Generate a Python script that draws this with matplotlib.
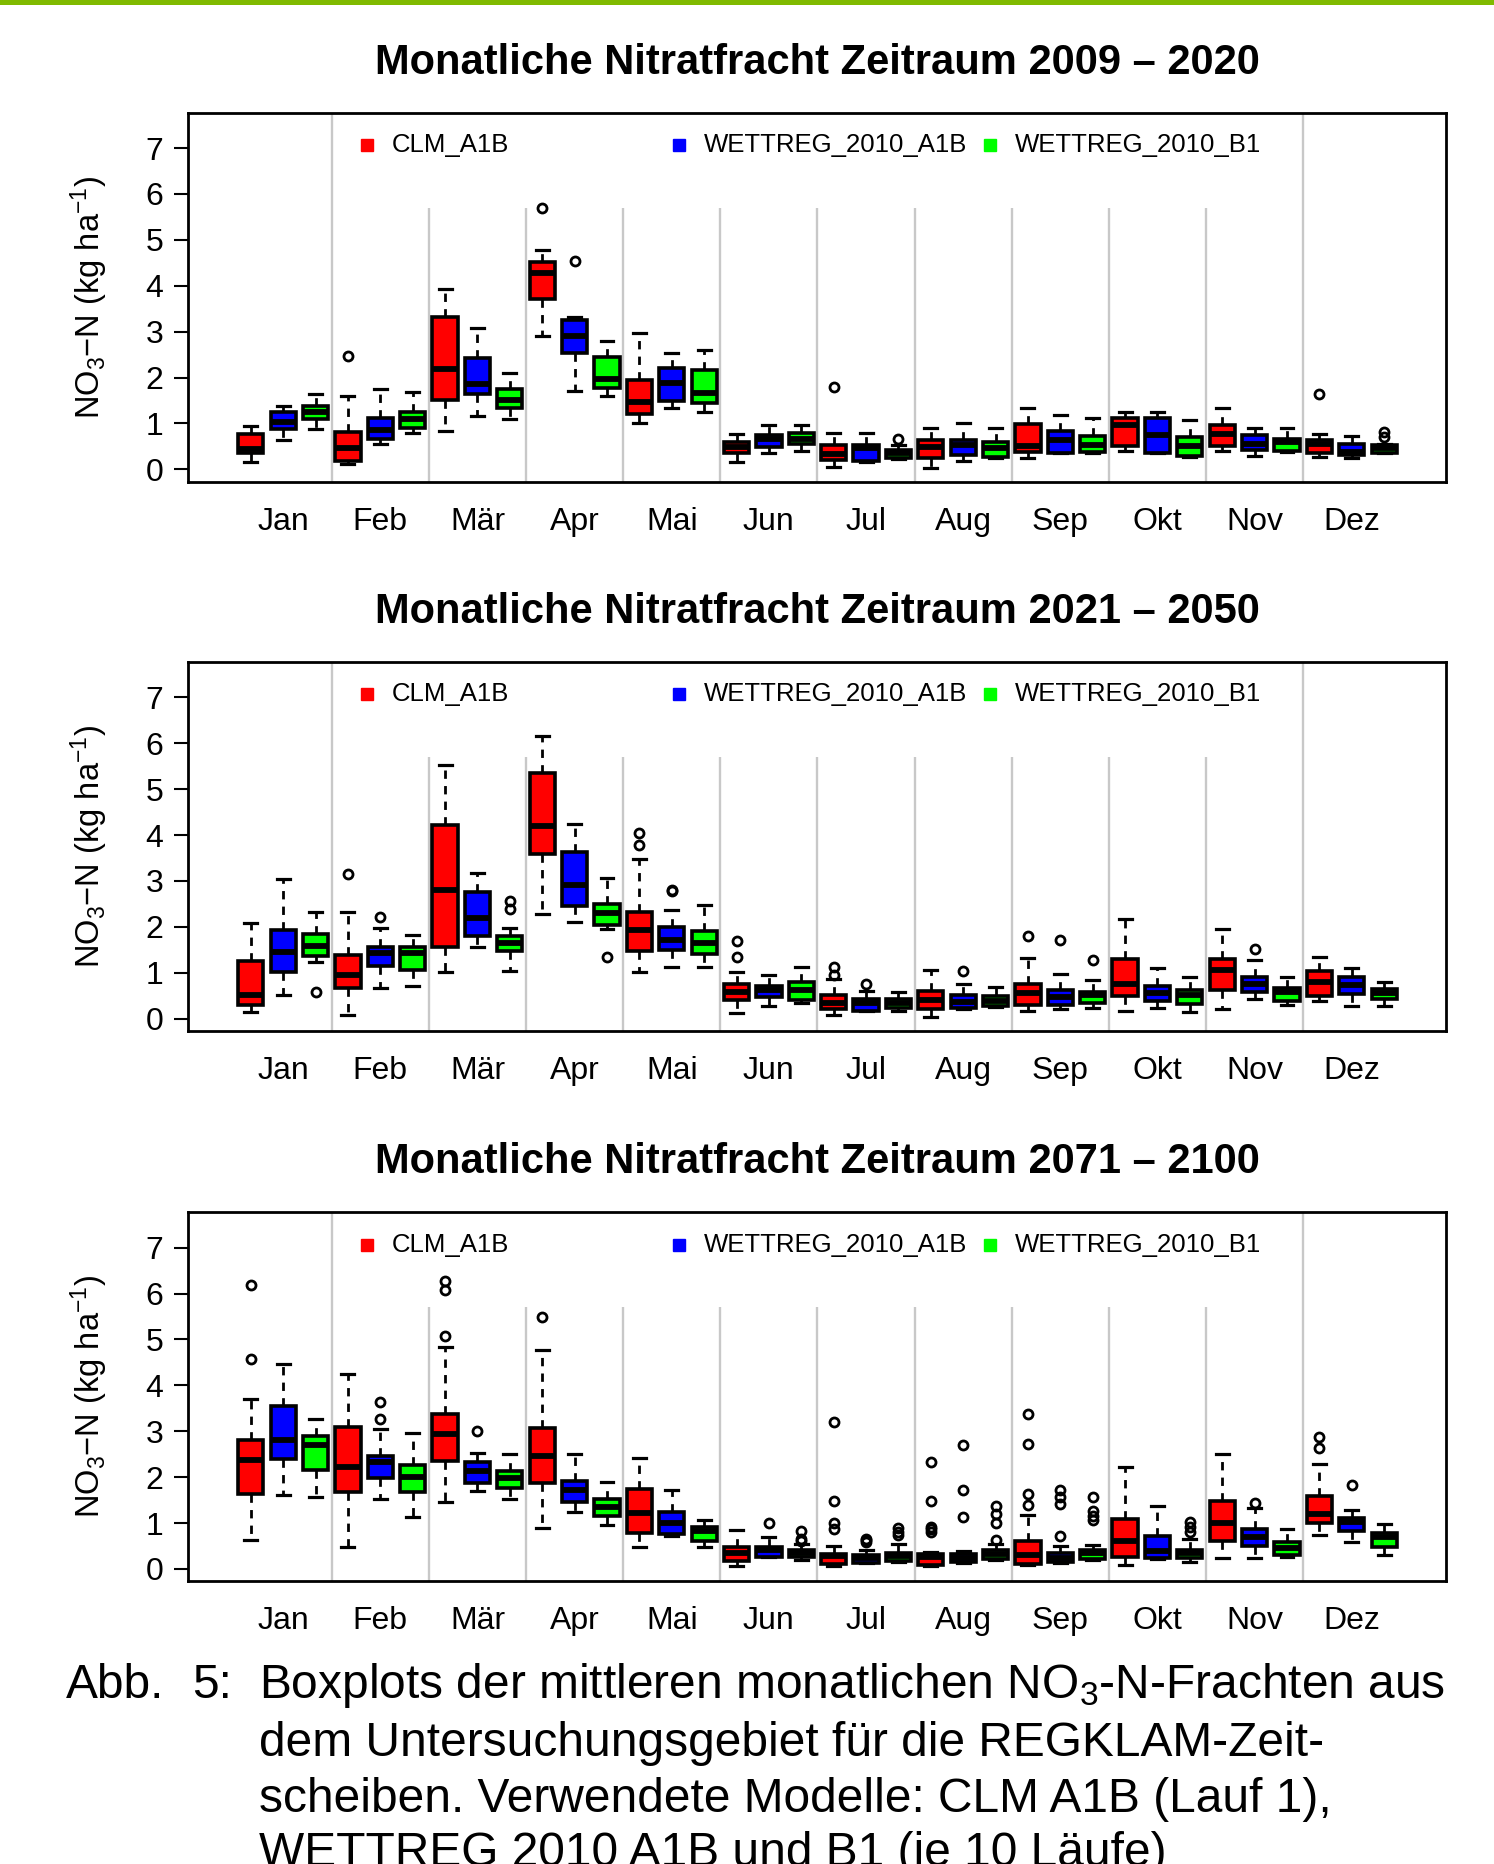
import matplotlib
matplotlib.use("Agg")
import matplotlib.pyplot as plt
from matplotlib.patches import Rectangle

plt.rcParams['font.family'] = ['Liberation Sans', 'DejaVu Sans']
plt.rcParams['mathtext.fontset'] = 'custom'
plt.rcParams['mathtext.rm'] = 'Liberation Sans'
plt.rcParams['mathtext.it'] = 'Liberation Sans:italic'
plt.rcParams['mathtext.bf'] = 'Liberation Sans:bold'

months = ["Jan", "Feb", "Mär", "Apr", "Mai", "Jun", "Jul", "Aug", "Sep", "Okt", "Nov", "Dez"]
models = ["CLM_A1B", "WETTREG_2010_A1B", "WETTREG_2010_B1"]
model_colors = ["#FF0000", "#0000FF", "#00FF00"]
titles = ["Monatliche Nitratfracht Zeitraum 2009 – 2020",
          "Monatliche Nitratfracht Zeitraum 2021 – 2050",
          "Monatliche Nitratfracht Zeitraum 2071 – 2100"]

# 36 boxes per panel: for each month CLM_A1B, WETTREG A1B, WETTREG B1
p1_whislo = [0.16, 0.64, 0.88, 0.11, 0.56, 0.80, 0.84, 1.17, 1.10, 2.90, 1.71, 1.60,
             1.00, 1.34, 1.24, 0.17, 0.35, 0.40, 0.06, 0.16, 0.22, 0.02, 0.19, 0.25,
             0.24, 0.35, 0.36, 0.40, 0.35, 0.27, 0.40, 0.29, 0.38, 0.27, 0.24, 0.35]
p1_q1 = [0.35, 0.87, 1.09, 0.18, 0.67, 0.91, 1.52, 1.65, 1.34, 3.71, 2.54, 1.78,
         1.20, 1.49, 1.44, 0.36, 0.49, 0.55, 0.20, 0.18, 0.24, 0.24, 0.31, 0.27,
         0.38, 0.36, 0.38, 0.51, 0.36, 0.29, 0.51, 0.42, 0.40, 0.36, 0.31, 0.36]
p1_med = [0.45, 1.04, 1.24, 0.47, 0.86, 1.09, 2.18, 1.85, 1.51, 4.27, 2.90, 1.97,
          1.47, 1.89, 1.67, 0.49, 0.67, 0.67, 0.33, 0.46, 0.35, 0.49, 0.54, 0.46,
          0.50, 0.64, 0.54, 0.96, 0.75, 0.51, 0.78, 0.56, 0.60, 0.56, 0.38, 0.46]
p1_q3 = [0.78, 1.24, 1.39, 0.82, 1.12, 1.25, 3.32, 2.43, 1.76, 4.51, 3.25, 2.45,
         1.94, 2.20, 2.16, 0.60, 0.75, 0.80, 0.54, 0.54, 0.43, 0.64, 0.64, 0.60,
         0.98, 0.84, 0.73, 1.11, 1.11, 0.71, 0.96, 0.75, 0.65, 0.64, 0.56, 0.53]
p1_whishi = [0.94, 1.39, 1.65, 1.60, 1.75, 1.68, 3.93, 3.08, 2.09, 4.78, 3.31, 2.80,
             2.98, 2.54, 2.61, 0.77, 0.96, 0.96, 0.80, 0.80, 0.54, 0.89, 1.01, 0.89,
             1.33, 1.18, 1.12, 1.24, 1.24, 1.07, 1.33, 0.89, 0.89, 0.78, 0.72, 0.55]
p1_fliers = [[], [], [], [2.47], [], [], [], [], [], [5.70], [4.54], [],
             [], [], [], [], [], [], [1.80], [], [0.67], [], [], [],
             [], [], [], [], [], [], [], [], [], [1.64], [], [0.82, 0.71]]

p2_whislo = [0.15, 0.51, 1.23, 0.08, 0.66, 0.70, 1.02, 1.57, 1.04, 2.28, 2.11, 1.95,
             1.01, 1.12, 1.12, 0.13, 0.28, 0.33, 0.08, 0.16, 0.16, 0.04, 0.20, 0.26,
             0.16, 0.21, 0.24, 0.16, 0.24, 0.15, 0.22, 0.43, 0.30, 0.39, 0.28, 0.28]
p2_q1 = [0.30, 1.02, 1.37, 0.66, 1.15, 1.07, 1.57, 1.81, 1.47, 3.59, 2.46, 2.04,
         1.48, 1.50, 1.40, 0.41, 0.48, 0.41, 0.21, 0.17, 0.24, 0.21, 0.24, 0.27,
         0.30, 0.30, 0.33, 0.50, 0.38, 0.31, 0.62, 0.57, 0.38, 0.50, 0.54, 0.43]
p2_med = [0.51, 1.46, 1.58, 0.95, 1.42, 1.42, 2.80, 2.19, 1.64, 4.19, 2.91, 2.30,
          1.93, 1.71, 1.64, 0.57, 0.62, 0.62, 0.33, 0.33, 0.33, 0.40, 0.37, 0.39,
          0.55, 0.48, 0.51, 0.75, 0.55, 0.51, 1.06, 0.75, 0.59, 0.80, 0.73, 0.55]
p2_q3 = [1.26, 1.92, 1.84, 1.39, 1.57, 1.57, 4.22, 2.75, 1.79, 5.35, 3.64, 2.50,
         2.33, 2.00, 1.90, 0.75, 0.70, 0.79, 0.51, 0.43, 0.42, 0.60, 0.51, 0.49,
         0.75, 0.62, 0.59, 1.29, 0.71, 0.62, 1.29, 0.90, 0.67, 1.04, 0.91, 0.64]
p2_whishi = [2.08, 3.04, 2.33, 2.33, 1.97, 1.82, 5.52, 3.17, 1.98, 6.16, 4.24, 3.06,
             3.48, 2.37, 2.48, 1.01, 0.96, 1.12, 0.86, 0.60, 0.59, 1.07, 0.75, 0.68,
             1.31, 0.97, 0.84, 2.17, 1.10, 0.91, 1.95, 1.28, 0.91, 1.35, 1.10, 0.80]
p2_fliers = [[], [], [0.57], [3.15], [2.21], [], [], [], [2.57, 2.39], [], [], [1.35],
             [4.04, 3.79], [2.77, 2.80], [], [1.70, 1.35], [], [], [1.12, 0.96], [0.75], [], [], [1.04], [],
             [1.79], [1.71], [1.28], [], [], [], [], [1.51], [], [], [], []]

p3_whislo = [0.64, 1.62, 1.56, 0.48, 1.52, 1.14, 1.46, 1.70, 1.52, 0.90, 1.23, 0.96,
             0.47, 0.72, 0.48, 0.06, 0.25, 0.19, 0.06, 0.12, 0.16, 0.06, 0.13, 0.19,
             0.08, 0.12, 0.19, 0.08, 0.21, 0.14, 0.23, 0.24, 0.26, 0.74, 0.58, 0.30]
p3_q1 = [1.63, 2.40, 2.15, 1.67, 1.97, 1.67, 2.35, 1.88, 1.77, 1.88, 1.46, 1.15,
         0.79, 0.77, 0.61, 0.17, 0.26, 0.26, 0.11, 0.13, 0.17, 0.08, 0.16, 0.21,
         0.11, 0.14, 0.21, 0.26, 0.24, 0.24, 0.61, 0.50, 0.30, 1.01, 0.83, 0.47]
p3_med = [2.37, 2.81, 2.70, 2.23, 2.32, 2.01, 2.94, 2.14, 1.97, 2.45, 1.72, 1.34,
          1.22, 0.99, 0.83, 0.34, 0.41, 0.35, 0.28, 0.23, 0.28, 0.26, 0.24, 0.32,
          0.30, 0.24, 0.34, 0.61, 0.40, 0.34, 0.99, 0.70, 0.45, 1.20, 1.03, 0.70]
p3_q3 = [2.80, 3.54, 2.90, 3.09, 2.47, 2.26, 3.38, 2.34, 2.13, 3.08, 1.92, 1.52,
         1.75, 1.25, 0.92, 0.48, 0.47, 0.41, 0.32, 0.30, 0.35, 0.32, 0.32, 0.41,
         0.61, 0.35, 0.41, 1.08, 0.72, 0.42, 1.49, 0.88, 0.59, 1.59, 1.12, 0.79]
p3_whishi = [3.70, 4.47, 3.26, 4.24, 3.04, 2.97, 4.83, 2.53, 2.50, 4.77, 2.50, 1.90,
             2.41, 1.73, 1.06, 0.85, 0.70, 0.54, 0.50, 0.41, 0.54, 0.36, 0.40, 0.54,
             1.17, 0.50, 0.52, 2.23, 1.36, 0.65, 2.50, 1.32, 0.86, 2.29, 1.28, 0.98]
p3_fliers = [[6.18, 4.57], [], [], [], [3.63, 3.26], [], [6.28, 6.08, 5.08], [3.01], [], [5.48], [], [],
             [], [], [], [], [0.99], [0.83, 0.66, 0.60],
             [3.21, 1.49, 0.99, 0.86], [0.66, 0.62, 0.59], [0.90, 0.80, 0.74],
             [2.34, 1.49, 0.92, 0.86, 0.81], [2.69, 1.72, 1.14], [1.37, 1.20, 0.99, 0.64],
             [3.38, 2.72, 1.63, 1.39], [1.73, 1.56, 1.41, 0.72], [1.56, 1.27, 1.15, 1.06],
             [], [], [1.03, 0.92, 0.81], [], [1.43], [], [2.88, 2.64], [1.82], []]

panels = [
    (p1_whislo, p1_q1, p1_med, p1_q3, p1_whishi, p1_fliers),
    (p2_whislo, p2_q1, p2_med, p2_q3, p2_whishi, p2_fliers),
    (p3_whislo, p3_q1, p3_med, p3_q3, p3_whishi, p3_fliers),
]

W, H = 1494, 1864
fig = plt.figure(figsize=(W / 100, H / 100), dpi=100)

# green rule at the very top
fig.add_artist(Rectangle((0, 1 - 5 / H), 1, 5 / H, transform=fig.transFigure,
                         facecolor="#80BA00", edgecolor="none"))

ax_left, ax_width, ax_height = 188.3 / W, 1258 / W, 369 / H
ax_tops = [112.7, 662.0, 1212.3]
ylo, yhi = -0.27, 7.77
positions = list(range(1, 37))
month_centers = [2 + 3 * i for i in range(12)]

for k, (lo, q1, med, q3, hi, fl) in enumerate(panels):
    ax = fig.add_axes([ax_left, 1 - (ax_tops[k] + 369) / H, ax_width, ax_height])
    stats = []
    for i in range(36):
        stats.append({"whislo": lo[i], "q1": q1[i], "med": med[i], "q3": q3[i],
                      "whishi": hi[i], "fliers": fl[i]})

    # grey month separators, covered by the white legend area
    for j in range(1, 12):
        ax.axvline(3 * j + 0.5, color="#C8C8C8", lw=1.7, zorder=0.5)
    leg_bottom = (5.7 - ylo) / (yhi - ylo)
    ax.add_patch(Rectangle((0.13, leg_bottom), 0.74, 1 - leg_bottom, transform=ax.transAxes,
                           facecolor="white", edgecolor="none", zorder=0.8))

    bp = ax.bxp(stats, positions=positions, widths=0.78, capwidths=0.4,
                patch_artist=True, showfliers=True,
                boxprops=dict(edgecolor="black", linewidth=2.6),
                medianprops=dict(color="black", linewidth=4.2, solid_capstyle="butt"),
                whiskerprops=dict(color="black", linewidth=2.0, linestyle=(0, (3, 2.6))),
                capprops=dict(color="black", linewidth=2.3),
                flierprops=dict(marker="o", markerfacecolor="none", markeredgecolor="black",
                                markersize=6.5, markeredgewidth=2.0, linestyle="none"))
    for i, box in enumerate(bp["boxes"]):
        box.set_facecolor(model_colors[i % 3])

    ax.set_xlim(-0.93, 37.92)
    ax.set_ylim(ylo, yhi)
    ax.set_yticks(range(8))
    ax.set_yticklabels([str(v) for v in range(8)])
    ax.set_xticks(month_centers)
    ax.set_xticklabels(months)
    ax.tick_params(axis="y", length=10, width=1.5, labelsize=23, pad=8)
    ax.tick_params(axis="x", length=0, labelsize=23, pad=18)
    for sp in ax.spines.values():
        sp.set_linewidth(2.0)
        sp.set_zorder(5)

    ax.text(0.5, 1 + 50 / 369, titles[k], transform=ax.transAxes, ha="center", va="center",
            fontsize=30, fontweight="bold")
    ax.text(-0.0787, 0.5, r"NO$_{3}$−N (kg ha$^{-1}$)", transform=ax.transAxes,
            rotation=90, ha="center", va="center", fontsize=23.5)

    # legend
    sq_x = [0.142, 0.390, 0.6373]
    for m in range(3):
        ax.plot([sq_x[m]], [0.9125], marker="s", markersize=8.5, color=model_colors[m],
                linestyle="none", transform=ax.transAxes, zorder=3)
        ax.text(sq_x[m] + 0.0199, 0.9125, models[m], transform=ax.transAxes,
                ha="left", va="center", fontsize=18.5, zorder=3)

# caption
cap_size = 34.5
fig.text(66 / W, 1 - 1686 / H, "Abb.", fontsize=cap_size, va="center", ha="left")
fig.text(192 / W, 1 - 1686 / H, "5:", fontsize=cap_size, va="center", ha="left")
caption = ["Boxplots der mittleren monatlichen NO$_3$-N-Frachten aus",
           "dem Untersuchungsgebiet für die REGKLAM-Zeit-",
           "scheiben. Verwendete Modelle: CLM A1B (Lauf 1),",
           "WETTREG 2010 A1B und B1 (je 10 Läufe)"]
cap_y = [1686, 1743, 1800, 1854]
for line, y in zip(caption, cap_y):
    fig.text(259 / W, 1 - y / H, line, fontsize=cap_size, va="center", ha="left")

fig.savefig("out.png", dpi=100)
